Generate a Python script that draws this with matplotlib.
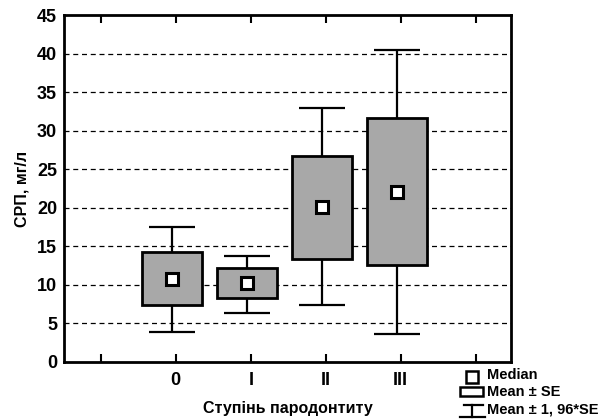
import matplotlib
matplotlib.use('Agg')
import matplotlib.pyplot as plt
import numpy as np

plt.rcParams['font.family'] = ['Liberation Sans', 'DejaVu Sans']
plt.rcParams['font.weight'] = 'bold'

groups = ['0', 'I', 'II', 'III']
median = [10.7, 10.3, 20.1, 22.0]
se_low = [7.4, 8.3, 13.3, 12.6]
se_high = [14.3, 12.2, 26.7, 31.6]
ci_low = [3.9, 6.4, 7.4, 3.6]
ci_high = [17.5, 13.8, 33.0, 40.4]

fig = plt.figure(figsize=[6.12, 4.2], dpi=100)
ax = fig.add_axes([64 / 612, 1 - 362 / 420, 447 / 612, 347 / 420])

pos = np.arange(len(groups)) - 0.05
box_w = 0.8
cap_w = 0.62

for y in range(5, 45, 5):
    ax.axhline(y, color='black', lw=0.9, ls=(0, (4, 3)), zorder=1)

ax.vlines(pos, ci_low, ci_high, color='black', lw=1.6, zorder=2)
ax.hlines(ci_low, pos - cap_w / 2, pos + cap_w / 2, color='black', lw=1.6, zorder=2)
ax.hlines(ci_high, pos - cap_w / 2, pos + cap_w / 2, color='black', lw=1.6, zorder=2)
ax.bar(pos, np.array(se_high) - np.array(se_low), bottom=se_low, width=box_w,
       color='#a8a8a8', edgecolor='black', linewidth=2, zorder=3)
ax.plot(pos, median, 's', ms=9, mfc='white', mec='black', mew=2.2, zorder=4, ls='none')

ax.set_xlim(-1.49, 4.47)
ax.set_ylim(0, 45)
ax.set_xticks(range(-1, 5))
ax.set_xticklabels([''] + groups + [''])
ax.set_yticks(range(0, 50, 5))
ax.tick_params(axis='x', direction='in', length=6, width=1.5, top=True, labelsize=13, pad=7)
ax.tick_params(axis='y', direction='in', length=0, labelsize=13, pad=5)
for s in ax.spines.values():
    s.set_linewidth(2)
ax.set_ylabel('СРП, мг/л', fontsize=11.5, fontweight='bold', labelpad=5)
ax.set_xlabel('Ступінь пародонтиту', fontsize=11.5, fontweight='bold', labelpad=9)

# legend drawn in pixel coords
lg = fig.add_axes([0, 0, 1, 1], facecolor='none')
lg.set_xlim(0, 612)
lg.set_ylim(420, 0)
lg.axis('off')
lg.plot([471.5], [377], 's', ms=8, mfc='white', mec='black', mew=1.8)
lg.add_patch(plt.Rectangle((460, 387), 23, 9, fc='white', ec='black', lw=1.8))
lg.plot([464, 483], [405, 405], color='black', lw=1.6)
lg.plot([460, 485], [417, 417], color='black', lw=1.6)
lg.plot([472, 472], [405, 417], color='black', lw=1.6)
lg.text(487, 375, 'Median', fontsize=10.5, fontweight='bold', va='center')
lg.text(487, 392, 'Mean ± SE', fontsize=10.5, fontweight='bold', va='center')
lg.text(487, 409, 'Mean ± 1, 96*SE', fontsize=10.5, fontweight='bold', va='center')

fig.savefig('out.png', dpi=100)
